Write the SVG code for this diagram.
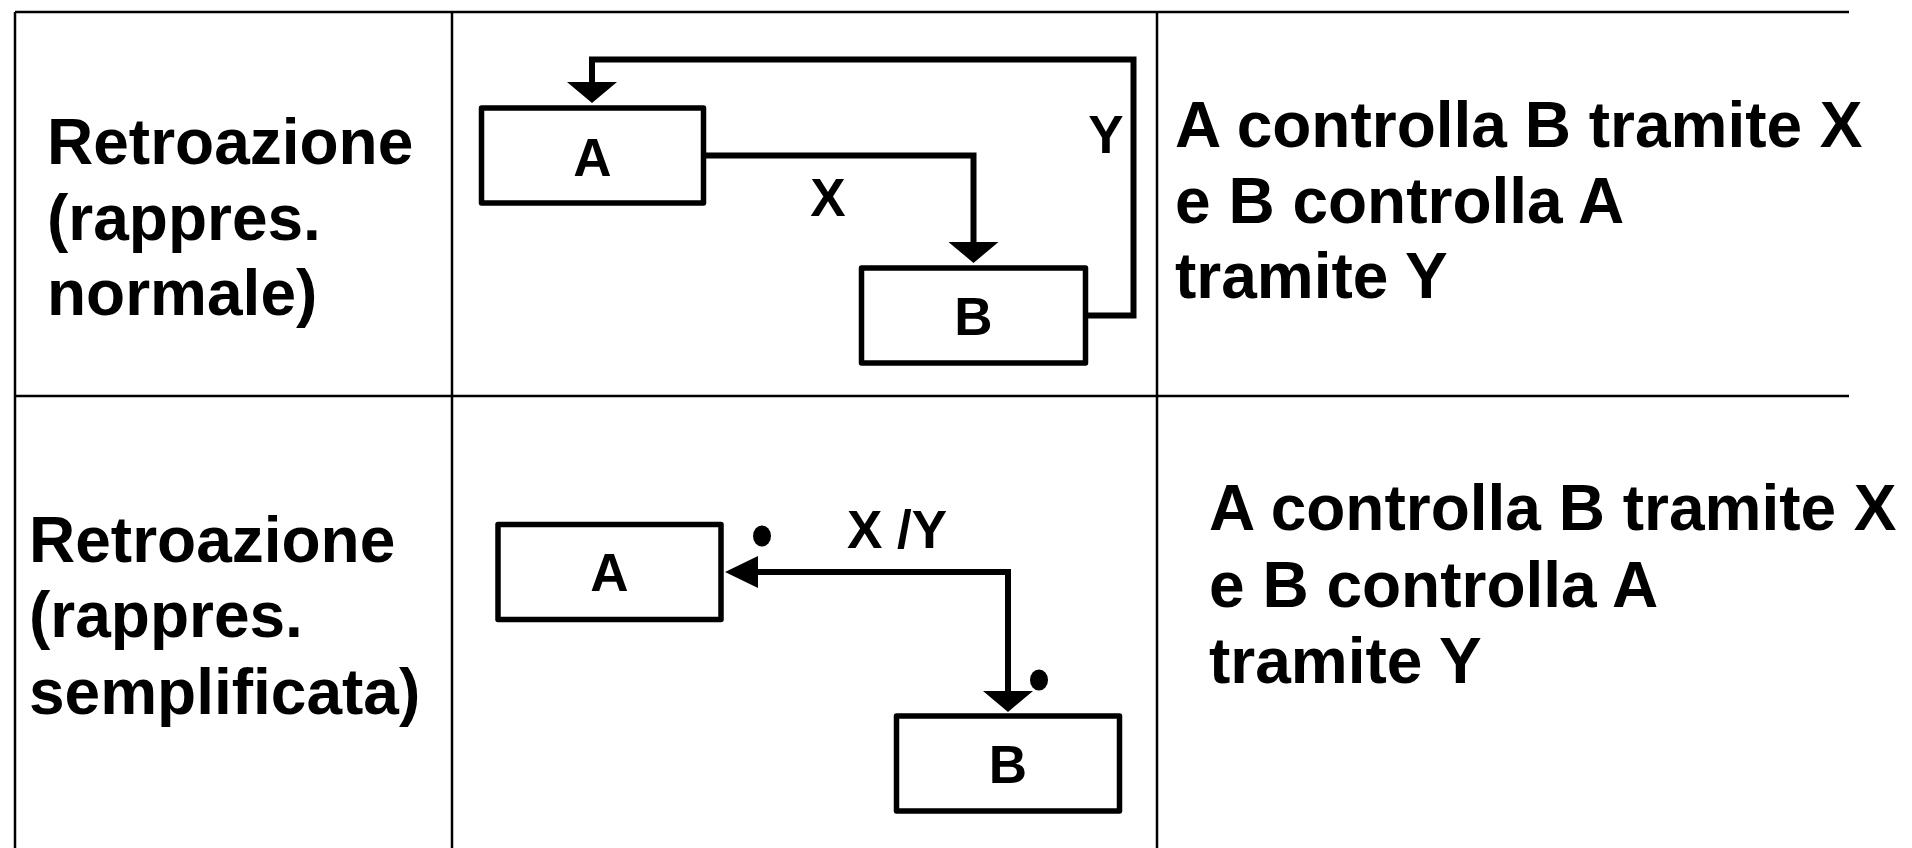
<svg xmlns="http://www.w3.org/2000/svg" width="1912" height="848" viewBox="0 0 1912 848">
<style>
.grid{stroke:#000;stroke-width:2.5;fill:none}
.box{fill:#fff;stroke:#000;stroke-width:5.5;stroke-linejoin:round}
.conn{fill:none;stroke:#000;stroke-width:6;stroke-linejoin:miter}
.big{font-family:"Liberation Sans",Arial,sans-serif;font-weight:bold;font-size:64px;fill:#000}
.lbl{font-family:"Liberation Sans",Arial,sans-serif;font-weight:bold;font-size:53px;fill:#000}
</style>
<defs>
<marker id="down" markerUnits="userSpaceOnUse" viewBox="0 0 21 50" markerWidth="21" markerHeight="50" refX="0" refY="25" orient="auto">
<path d="M0,0 L21,25 L0,50 z" fill="#000"/>
</marker>
<marker id="left" markerUnits="userSpaceOnUse" viewBox="0 0 33 32" markerWidth="33" markerHeight="32" refX="0" refY="16" orient="auto-start-reverse">
<path d="M0,0 L33,16 L0,32 z" fill="#000"/>
</marker>
</defs>
<rect width="1912" height="848" fill="#fff"/>
<g id="table">
<line class="grid" x1="15" y1="12" x2="1849" y2="12"/>
<line class="grid" x1="15" y1="396" x2="1849" y2="396"/>
<line class="grid" x1="15" y1="12" x2="15" y2="848"/>
<line class="grid" x1="452" y1="12" x2="452" y2="848"/>
<line class="grid" x1="1157" y1="12" x2="1157" y2="848"/>
</g>
<g id="row1-title">
<text class="big" x="47" y="164">Retroazione</text>
<text class="big" x="47" y="240">(rappres.</text>
<text class="big" x="47" y="315">normale)</text>
</g>
<g id="row1-desc">
<text class="big" x="1175" y="147">A controlla B tramite X</text>
<text class="big" x="1175" y="223">e B controlla A</text>
<text class="big" x="1175" y="298">tramite Y</text>
</g>
<g id="row2-title">
<text class="big" x="29" y="562">Retroazione</text>
<text class="big" x="29" y="637">(rappres.</text>
<text class="big" x="29" y="714">semplificata)</text>
</g>
<g id="row2-desc">
<text class="big" x="1209" y="530">A controlla B tramite X</text>
<text class="big" x="1209" y="607">e B controlla A</text>
<text class="big" x="1209" y="683">tramite Y</text>
</g>
<g id="connectors">
<path class="conn" d="M703,155.5 H973.5 V242" marker-end="url(#down)"/>
<path class="conn" d="M1087,315.5 H1133.5 V59.5 H592 V82" marker-end="url(#down)"/>
<path class="conn" d="M758,572 H1008 V691" marker-start="url(#left)" marker-end="url(#down)"/>
<text class="lbl" x="828" y="216" text-anchor="middle">X</text>
<text class="lbl" x="1106" y="153" text-anchor="middle">Y</text>
<text class="lbl" x="847" y="548">X /Y</text>
<ellipse cx="762" cy="536" rx="9" ry="10.5" fill="#000"/>
<ellipse cx="1039" cy="680" rx="9" ry="10.5" fill="#000"/>
</g>
<g id="node-A1">
<rect class="box" x="481.5" y="108" width="222" height="95"/>
<text class="lbl" x="592.5" y="175.5" text-anchor="middle">A</text>
</g>
<g id="node-B1">
<rect class="box" x="861.5" y="268" width="224" height="95"/>
<text class="lbl" x="973.5" y="335" text-anchor="middle">B</text>
</g>
<g id="node-A2">
<rect class="box" x="498" y="524.5" width="223" height="95"/>
<text class="lbl" x="609.5" y="591" text-anchor="middle">A</text>
</g>
<g id="node-B2">
<rect class="box" x="896.5" y="716" width="223" height="95"/>
<text class="lbl" x="1008" y="783" text-anchor="middle">B</text>
</g>
</svg>
